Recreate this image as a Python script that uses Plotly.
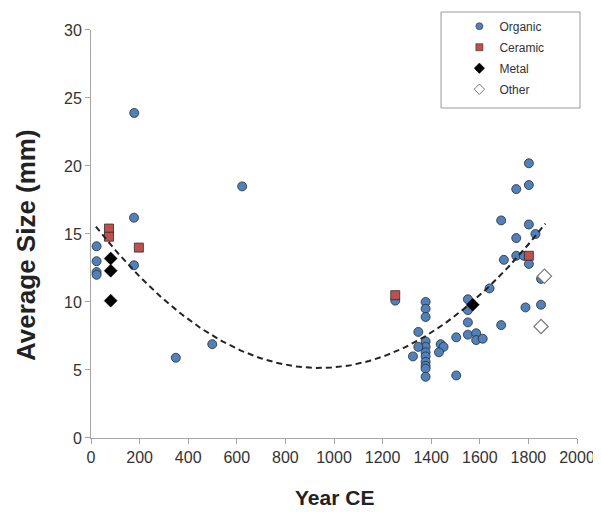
import numpy as np
import plotly.graph_objects as go

organic_year = [23, 23, 23, 23, 178, 177, 177, 349, 499, 622,
                1252,
                1377, 1377, 1377, 1347, 1377, 1377, 1377, 1377, 1377, 1377, 1377, 1377,
                1347, 1325, 1439, 1451, 1432, 1503, 1503,
                1551, 1551, 1551, 1551, 1585, 1585, 1612, 1640,
                1688, 1699, 1688, 1750, 1750, 1750, 1781, 1788,
                1802, 1802, 1802, 1802, 1829, 1852, 1852]
organic_size = [14.1, 13.0, 12.2, 12.0, 23.9, 16.2, 12.7, 5.9, 6.9, 18.5,
                10.1,
                10.0, 9.5, 8.9, 7.8, 7.1, 6.7, 6.3, 6.0, 5.6, 5.3, 5.1, 4.5,
                6.7, 6.0, 6.9, 6.7, 6.3, 7.4, 4.6,
                10.2, 9.4, 8.5, 7.6, 7.7, 7.2, 7.3, 11.0,
                16.0, 13.1, 8.3, 18.3, 14.7, 13.4, 13.4, 9.6,
                20.2, 18.6, 15.7, 12.8, 15.0, 11.7, 9.8]

ceramic_year = [74, 74, 197, 1252, 1802]
ceramic_size = [15.4, 14.8, 14.0, 10.5, 13.4]

metal_year = [81, 81, 81, 1571]
metal_size = [13.2, 12.3, 10.1, 9.8]

other_year = [1866, 1852]
other_size = [11.9, 8.2]

x_ticks = [0, 200, 400, 600, 800, 1000, 1200, 1400, 1600, 1800, 2000]
y_ticks = [0, 5, 10, 15, 20, 25, 30]

# second-order polynomial trendline as drawn in the reference (vertex form)
trend_start, trend_end = 20, 1870
trend_vertex_year = 940
trend_min_size = 5.15
trend_curvature = 1.228e-5
trend_x = np.linspace(trend_start, trend_end, 200)
trend_y = trend_min_size + trend_curvature * (trend_x - trend_vertex_year) ** 2

FONT = "Arial, Liberation Sans, sans-serif"
BLUE = "#4F81BD"
RED = "#C0504D"

fig = go.Figure()
fig.add_trace(go.Scatter(x=organic_year, y=organic_size, mode="markers", showlegend=False,
                         marker=dict(symbol="circle", size=9, color=BLUE,
                                     line=dict(color="#2b2b2b", width=0.8))))
fig.add_trace(go.Scatter(x=ceramic_year, y=ceramic_size, mode="markers", showlegend=False,
                         marker=dict(symbol="square", size=9, color=RED,
                                     line=dict(color="#2b2b2b", width=0.8))))
fig.add_trace(go.Scatter(x=trend_x, y=trend_y, mode="lines", showlegend=False,
                         line=dict(color="#222222", width=2, dash="6px,4px"),
                         hoverinfo="skip"))
fig.add_trace(go.Scatter(x=metal_year, y=metal_size, mode="markers", showlegend=False,
                         marker=dict(symbol="diamond", size=10, color="black",
                                     line=dict(color="black", width=0.5))))
fig.add_trace(go.Scatter(x=other_year, y=other_size, mode="markers", showlegend=False,
                         marker=dict(symbol="diamond", size=11, color="white",
                                     line=dict(color="#777777", width=1.2))))

# legend entries
legend_specs = [
    ("Organic", dict(symbol="circle", size=7, color=BLUE, line=dict(color="#2b2b2b", width=0.6))),
    ("Ceramic", dict(symbol="square", size=7, color=RED, line=dict(color="#2b2b2b", width=0.6))),
    ("Metal", dict(symbol="diamond", size=8, color="black", line=dict(color="black", width=0.5))),
    ("Other", dict(symbol="diamond", size=8, color="white", line=dict(color="#777777", width=1))),
]
for i, (name, mk) in enumerate(legend_specs):
    fig.add_trace(go.Scatter(x=[None], y=[None], mode="markers", name=name, marker=mk,
                             legendgroup=f"g{i}", showlegend=True))

axis_common = dict(showgrid=False, zeroline=False, showline=True, linecolor="#A6A6A6",
                   linewidth=1, ticks="outside", ticklen=5, tickcolor="#A6A6A6",
                   tickfont=dict(family=FONT, size=16, color="#333333"), mirror=False,
                   automargin=False)

# page body has an 8px margin, so the figure is 8px smaller on each axis
fig.update_layout(
    width=593, height=504,
    margin=dict(l=83, r=24, t=2, b=74),
    paper_bgcolor="white", plot_bgcolor="white",
    xaxis=dict(range=[0, 2000], tickvals=x_ticks, tickangle=0, **axis_common),
    yaxis=dict(range=[0, 30], tickvals=y_ticks, domain=[0, 0.9533], **axis_common),
    legend=dict(x=0.758, y=0.996, xanchor="left", yanchor="top",
                bgcolor="rgba(0,0,0,0)", borderwidth=0,
                font=dict(family=FONT, size=12, color="#333333"),
                traceorder="grouped", tracegroupgap=2),
    shapes=[dict(type="rect", xref="paper", yref="paper",
                 x0=0.7202, x1=1.0062, y0=0.7710, y1=0.9953,
                 line=dict(color="#999999", width=1), fillcolor="rgba(0,0,0,0)", layer="above")],
    annotations=[
        dict(text="<b>Year CE</b>", xref="paper", yref="paper", x=0.5, y=-0.1379,
             xanchor="center", yanchor="middle", showarrow=False,
             font=dict(family=FONT, size=21, color="#222222")),
        dict(text="<b>Average Size (mm)</b>", xref="paper", yref="paper", x=-0.1337, y=0.4509,
             xanchor="center", yanchor="middle", showarrow=False, textangle=-90,
             font=dict(family=FONT, size=26, color="#222222")),
    ],
)

fig.write_html("out.html")
